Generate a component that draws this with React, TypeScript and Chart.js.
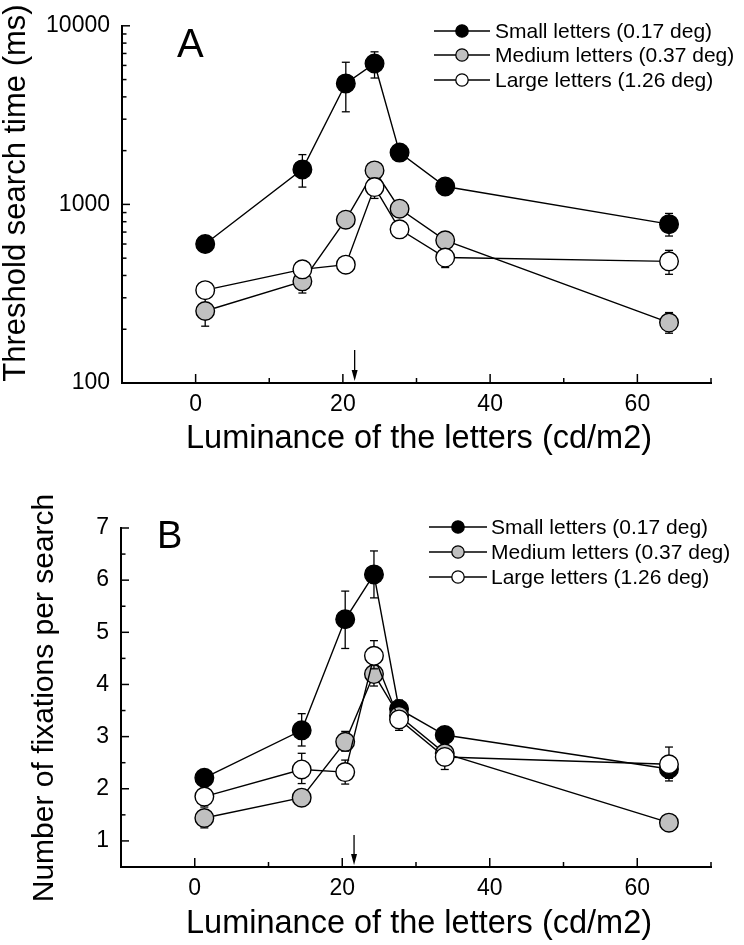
import React, { useEffect, useRef } from "react";
import { Chart, registerables } from "chart.js";

Chart.register(...registerables);

const FONT = "'Liberation Sans', Arial, Helvetica, sans-serif";

// Luminance of the letters (cd/m2) for each test condition
const luminance = [1.3, 14.5, 20.4, 24.3, 27.7, 33.9, 64.3];

const seriesLabels = [
  "Small letters (0.17 deg)",
  "Medium letters (0.37 deg)",
  "Large letters (1.26 deg)",
];
const seriesFills = ["#000000", "#c0c0c0", "#ffffff"];

// Panel A: threshold search time (ms), with upper / lower error limits
const timeSmall = [600, 1570, 4760, 6150, 1950, 1260, 775];
const timeSmallHi = [630, 1900, 6250, 7150, 2060, 1320, 890];
const timeSmallLo = [570, 1250, 3300, 5100, 1840, 1200, 665];
const timeMedium = [253, 371, 821, 1550, 946, 629, 218];
const timeMediumHi = [300, 430, 870, 1650, 1000, 670, 248];
const timeMediumLo = [208, 319, 780, 1450, 890, 590, 190];
const timeLarge = [331, 433, 460, 1250, 725, 504, 480];
const timeLargeHi = [350, 452, 485, 1400, 780, 540, 553];
const timeLargeLo = [300, 412, 436, 1080, 680, 443, 406];

// Panel B: number of fixations per search, with upper / lower error limits
const fixSmall = [2.21, 3.12, 5.25, 6.11, 3.53, 3.03, 2.38];
const fixSmallHi = [2.3, 3.44, 5.79, 6.56, 3.7, 3.15, 2.5];
const fixSmallLo = [2.1, 2.82, 4.69, 5.66, 3.38, 2.9, 2.15];
const fixMedium = [1.44, 1.83, 2.9, 4.2, 3.4, 2.68, 1.35];
const fixMediumHi = [1.6, 1.95, 3.1, 4.43, 3.55, 2.8, 1.5];
const fixMediumLo = [1.25, 1.68, 2.72, 3.97, 3.25, 2.55, 1.2];
const fixLarge = [1.85, 2.37, 2.32, 4.55, 3.33, 2.61, 2.47];
const fixLargeHi = [1.98, 2.68, 2.55, 4.84, 3.45, 2.75, 2.8];
const fixLargeLo = [1.65, 2.1, 2.09, 4.3, 3.12, 2.37, 2.2];

// Axis ticks
const xMajorTicks = [0, 20, 40, 60];
const xMinorTicks = [10, 30, 50, 70];
const timeMajorTicks = [100, 1000, 10000];
const timeMinorTicks = [200, 300, 400, 500, 600, 700, 800, 900, 2000, 3000, 4000, 5000, 6000, 7000, 8000, 9000];
const fixMajorTicks = [1, 2, 3, 4, 5, 6, 7];
const fixMinorTicks = [1.5, 2.5, 3.5, 4.5, 5.5, 6.5];

// Luminance marked by the arrow on the x axis
const arrowLuminance = 21.6;

type Panel = {
  letter: string;
  yTitle: string;
  xTitle: string;
  values: number[][];
  hi: number[][];
  lo: number[][];
  yType: "logarithmic" | "linear";
  yMin: number;
  yMax: number;
  yMajor: number[];
  yMinor: number[];
  height: number;
  top: number;
  padTop: number;
  yAxisWidth: number;
  xAxisHeight: number;
  letterX: number;
  letterY: number;
  letterSize: number;
  yTitleX: number;
  yTitleY: number;
  yTitleSize: number;
  xTitleY: number;
  legendLineX: [number, number];
  legendMarkX: number;
  legendTextX: number;
  legendRows: number[];
  arrowTop: number;
};

const panels: Panel[] = [
  {
    letter: "A",
    yTitle: "Threshold search time (ms)",
    xTitle: "Luminance of the letters (cd/m2)",
    values: [timeSmall, timeMedium, timeLarge],
    hi: [timeSmallHi, timeMediumHi, timeLargeHi],
    lo: [timeSmallLo, timeMediumLo, timeLargeLo],
    yType: "logarithmic",
    yMin: 100,
    yMax: 10000,
    yMajor: timeMajorTicks,
    yMinor: timeMinorTicks,
    height: 470,
    top: 0,
    padTop: 25,
    yAxisWidth: 122,
    xAxisHeight: 87,
    letterX: 177,
    letterY: 57,
    letterSize: 40,
    yTitleX: 16,
    yTitleY: 193,
    yTitleSize: 31,
    xTitleY: 448,
    legendLineX: [434, 490],
    legendMarkX: 462,
    legendTextX: 495,
    legendRows: [31, 55, 80],
    arrowTop: 350,
  },
  {
    letter: "B",
    yTitle: "Number of fixations per search",
    xTitle: "Luminance of the letters (cd/m2)",
    values: [fixSmall, fixMedium, fixLarge],
    hi: [fixSmallHi, fixMediumHi, fixLargeHi],
    lo: [fixSmallLo, fixMediumLo, fixLargeLo],
    yType: "linear",
    yMin: 0.5,
    yMax: 7,
    yMajor: fixMajorTicks,
    yMinor: fixMinorTicks,
    height: 475,
    top: 470,
    padTop: 58,
    yAxisWidth: 121,
    xAxisHeight: 78,
    letterX: 157,
    letterY: 78,
    letterSize: 38,
    yTitleX: 45,
    yTitleY: 228,
    yTitleSize: 30,
    xTitleY: 463,
    legendLineX: [429, 487],
    legendMarkX: 458,
    legendTextX: 491,
    legendRows: [57, 82, 107],
    arrowTop: 365,
  },
];

function line(ctx: CanvasRenderingContext2D, x1: number, y1: number, x2: number, y2: number) {
  ctx.beginPath();
  ctx.moveTo(x1, y1);
  ctx.lineTo(x2, y2);
  ctx.stroke();
}

function buildConfig(p: Panel): any {
  const datasets = p.values.map((vals, i) => ({
    label: seriesLabels[i],
    data: luminance.map((x, j) => ({ x, y: vals[j] })),
    borderColor: "#000",
    borderWidth: 1.4,
    pointRadius: 9.3,
    pointHoverRadius: 9.3,
    pointBorderWidth: 1.4,
    pointBackgroundColor: seriesFills[i],
    pointBorderColor: "#000",
    tension: 0,
    fill: false,
    order: 2 - i,
  }));

  // error bars of each series, drawn just beneath that series' markers
  const errorBars = {
    id: "errorBars",
    beforeDatasetDraw(chart: any, args: any) {
      const i = args.index;
      const { ctx } = chart;
      const xs = chart.scales.x;
      const ys = chart.scales.y;
      ctx.save();
      ctx.strokeStyle = "#000";
      ctx.lineWidth = 1.3;
      luminance.forEach((x, j) => {
        const px = xs.getPixelForValue(x);
        const yh = ys.getPixelForValue(p.hi[i][j]);
        const yl = ys.getPixelForValue(p.lo[i][j]);
        line(ctx, px, yh, px, yl);
        line(ctx, px - 4, yh, px + 4, yh);
        line(ctx, px - 4, yl, px + 4, yl);
      });
      ctx.restore();
    },
  };

  const decorations = {
    id: "decorations",
    afterDraw(chart: any) {
      const { ctx, chartArea: area } = chart;
      const xs = chart.scales.x;
      const ys = chart.scales.y;
      ctx.save();
      ctx.strokeStyle = "#000";
      ctx.fillStyle = "#000";
      ctx.lineWidth = 1.5;

      // inward tick marks
      xMajorTicks.forEach((v) => {
        const px = xs.getPixelForValue(v);
        line(ctx, px, area.bottom, px, area.bottom - 9);
      });
      xMinorTicks.forEach((v) => {
        const px = xs.getPixelForValue(v);
        line(ctx, px, area.bottom, px, area.bottom - 5);
      });
      p.yMajor.forEach((v) => {
        const py = ys.getPixelForValue(v);
        line(ctx, area.left, py, area.left + 8, py);
      });
      p.yMinor.forEach((v) => {
        const py = ys.getPixelForValue(v);
        line(ctx, area.left, py, area.left + 4.5, py);
      });

      // arrow on the x axis
      const ax = xs.getPixelForValue(arrowLuminance);
      const tip = area.bottom - 2;
      ctx.lineWidth = 1.3;
      line(ctx, ax, p.arrowTop, ax, tip - 6);
      ctx.beginPath();
      ctx.moveTo(ax, tip);
      ctx.lineTo(ax - 3, tip - 11);
      ctx.lineTo(ax + 3, tip - 11);
      ctx.closePath();
      ctx.fill();

      // panel letter
      ctx.font = `${p.letterSize}px ${FONT}`;
      ctx.textAlign = "left";
      ctx.textBaseline = "alphabetic";
      ctx.fillText(p.letter, p.letterX, p.letterY);

      // axis titles
      ctx.font = `32.5px ${FONT}`;
      ctx.fillText(p.xTitle, 186, p.xTitleY);
      ctx.save();
      ctx.translate(p.yTitleX, p.yTitleY);
      ctx.rotate(-Math.PI / 2);
      ctx.font = `${p.yTitleSize}px ${FONT}`;
      ctx.textAlign = "center";
      ctx.textBaseline = "middle";
      ctx.fillText(p.yTitle, 0, 0);
      ctx.restore();

      // legend
      ctx.font = `21px ${FONT}`;
      ctx.textAlign = "left";
      ctx.textBaseline = "middle";
      seriesLabels.forEach((label, i) => {
        const ry = p.legendRows[i];
        ctx.lineWidth = 1.4;
        line(ctx, p.legendLineX[0], ry, p.legendLineX[1], ry);
        ctx.beginPath();
        ctx.arc(p.legendMarkX, ry, 6.2, 0, Math.PI * 2);
        ctx.fillStyle = seriesFills[i];
        ctx.fill();
        ctx.lineWidth = 1.3;
        ctx.stroke();
        ctx.fillStyle = "#000";
        ctx.fillText(label, p.legendTextX, ry + 1);
      });
      ctx.restore();
    },
  };

  return {
    type: "line",
    data: { datasets },
    options: {
      animation: false,
      responsive: false,
      maintainAspectRatio: false,
      events: [],
      layout: { padding: { top: p.padTop, right: 33, left: 0, bottom: 0 } },
      plugins: { legend: { display: false }, tooltip: { enabled: false } },
      scales: {
        x: {
          type: "linear",
          min: -10,
          max: 70,
          afterBuildTicks: (s: any) => {
            s.ticks = xMajorTicks.map((v) => ({ value: v }));
          },
          afterFit: (s: any) => {
            s.height = p.xAxisHeight;
          },
          grid: { display: false, drawTicks: false },
          border: { display: true, color: "#000", width: 2 },
          ticks: {
            font: { family: FONT, size: 23 },
            color: "#000",
            padding: 8,
            maxRotation: 0,
            autoSkip: false,
          },
        },
        y: {
          type: p.yType,
          min: p.yMin,
          max: p.yMax,
          afterBuildTicks: (s: any) => {
            s.ticks = p.yMajor.map((v) => ({ value: v }));
          },
          afterFit: (s: any) => {
            s.width = p.yAxisWidth;
          },
          grid: { display: false, drawTicks: false },
          border: { display: true, color: "#000", width: 2 },
          ticks: {
            font: { family: FONT, size: 23 },
            color: "#000",
            padding: 12,
            autoSkip: false,
            callback: (v: any) => String(v),
          },
        },
      },
    },
    plugins: [errorBars, decorations],
  };
}

function PanelChart({ panel }: { panel: Panel }) {
  const ref = useRef<HTMLCanvasElement>(null);
  useEffect(() => {
    const chart = new Chart(ref.current as HTMLCanvasElement, buildConfig(panel));
    return () => chart.destroy();
  }, [panel]);
  return (
    <canvas
      ref={ref}
      width={744}
      height={panel.height}
      style={{
        position: "absolute",
        left: 0,
        top: panel.top,
        width: 744,
        height: panel.height,
        display: "block",
      }}
    />
  );
}

export default function App() {
  return (
    <div
      style={{
        position: "absolute",
        left: 0,
        top: 0,
        width: 744,
        height: 945,
        background: "#fff",
        overflow: "hidden",
      }}
    >
      {panels.map((p) => (
        <PanelChart key={p.letter} panel={p} />
      ))}
    </div>
  );
}
